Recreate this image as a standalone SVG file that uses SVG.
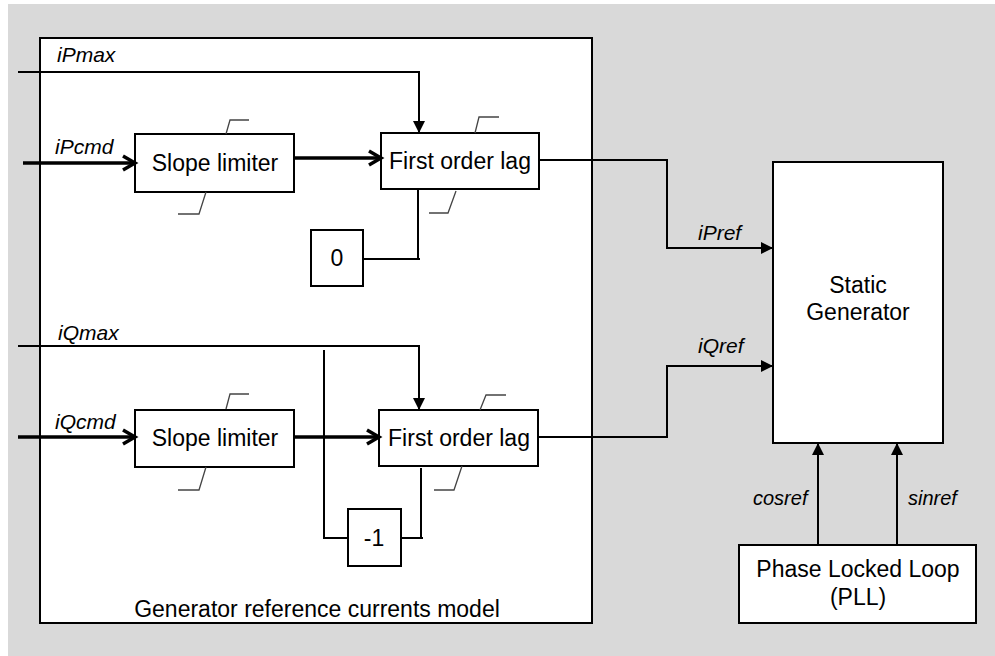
<svg xmlns="http://www.w3.org/2000/svg" width="995" height="656" viewBox="0 0 995 656">
<style>
.box{fill:#fff;stroke:#000;stroke-width:2}
.ln{fill:none;stroke:#000;stroke-width:2}
.thk{fill:none;stroke:#000;stroke-width:3.5}
.lim{fill:none;stroke:#444;stroke-width:1.3}
.t{font-family:"Liberation Sans",Arial,sans-serif;font-size:23px;fill:#000}
.i{font-family:"Liberation Sans",Arial,sans-serif;font-size:21px;font-style:italic;fill:#000}
.c{text-anchor:middle}
</style>
<defs>
<marker id="tri" markerUnits="userSpaceOnUse" markerWidth="12" markerHeight="12" viewBox="0 0 12 12" refX="12" refY="6" orient="auto"><path d="M0,0 L12,6 L0,12 z" fill="#000"/></marker>
<marker id="chev" markerUnits="userSpaceOnUse" markerWidth="20" markerHeight="22" viewBox="-4 -11 20 22" refX="12" refY="0" orient="auto"><path d="M0,-7 L12,0 L0,7" fill="none" stroke="#000" stroke-width="3.5"/></marker>
</defs>
<rect x="8" y="4" width="987" height="652" fill="#d9d9d9"/>
<g id="model"><rect class="box" x="40" y="38" width="552" height="585"/><text class="t c" x="317" y="617">Generator reference currents model</text></g>
<g id="static-generator"><rect class="box" x="773" y="162" width="170" height="281"/><text class="t c" x="858" y="293">Static</text><text class="t c" x="858" y="320">Generator</text></g>
<g id="pll"><rect class="box" x="739" y="545" width="237" height="78"/><text class="t c" x="858" y="577">Phase Locked Loop</text><text class="t c" x="858" y="605">(PLL)</text></g>
<g id="slope-p"><rect class="box" x="135" y="134" width="159" height="58"/><text class="t c" x="215" y="171">Slope limiter</text><path class="lim" d="M226,134 L230,120 L249,120 M178,214 L199,214 L206,192"/></g>
<g id="lag-p"><rect class="box" x="381" y="133" width="158" height="56"/><text class="t c" x="460" y="169">First order lag</text><path class="lim" d="M475,133 L479,117 L499,117 M429,213 L448,213 L456,191"/></g>
<g id="zero"><rect class="box" x="311" y="230" width="52" height="56"/><text class="t c" x="337" y="266">0</text></g>
<g id="slope-q"><rect class="box" x="135" y="410" width="159" height="57"/><text class="t c" x="215" y="446">Slope limiter</text><path class="lim" d="M226,409 L230,394 L249,394 M178,490 L199,490 L206,467"/></g>
<g id="lag-q"><rect class="box" x="379" y="410" width="159" height="56"/><text class="t c" x="459" y="446">First order lag</text><path class="lim" d="M480,410 L486,395 L506,395 M434,490 L454,490 L462,466"/></g>
<g id="minus-one"><rect class="box" x="348" y="509" width="53" height="57"/><text class="t c" x="374" y="546">-1</text></g>
<g id="connectors">
<path class="ln" d="M18,72 L419,72 L419,133" marker-end="url(#tri)"/>
<path class="thk" d="M23,163 L135,163" marker-end="url(#chev)"/>
<path class="thk" d="M294,158 L381,158" marker-end="url(#chev)"/>
<path class="ln" d="M363,259 L420,259 M418,259 L418,189"/>
<path class="ln" d="M539,160 L667,160 L667,248 L773,248" marker-end="url(#tri)"/>
<path class="ln" d="M18,346 L419,346 L419,410" marker-end="url(#tri)"/>
<path class="thk" d="M18,437 L135,437" marker-end="url(#chev)"/>
<path class="thk" d="M294,437 L379,437" marker-end="url(#chev)"/>
<path class="ln" d="M324,350 L324,538 L348,538"/>
<path class="ln" d="M401,538 L423,538 M421,538 L421,468"/>
<path class="ln" d="M538,437 L667,437 L667,366 L773,366" marker-end="url(#tri)"/>
<path class="ln" d="M818,545 L818,443" marker-end="url(#tri)"/>
<path class="ln" d="M897,545 L897,443" marker-end="url(#tri)"/>
</g>
<g id="labels">
<text class="i" x="57" y="62">iPmax</text>
<text class="i" x="55" y="154">iPcmd</text>
<text class="i" x="58" y="340">iQmax</text>
<text class="i" x="55" y="429">iQcmd</text>
<text class="i" x="698" y="240">iPref</text>
<text class="i" x="698" y="353">iQref</text>
<text class="i" x="753" y="505" style="font-size:20px">cosref</text>
<text class="i" x="908" y="505" style="font-size:20px">sinref</text>
</g>
</svg>
